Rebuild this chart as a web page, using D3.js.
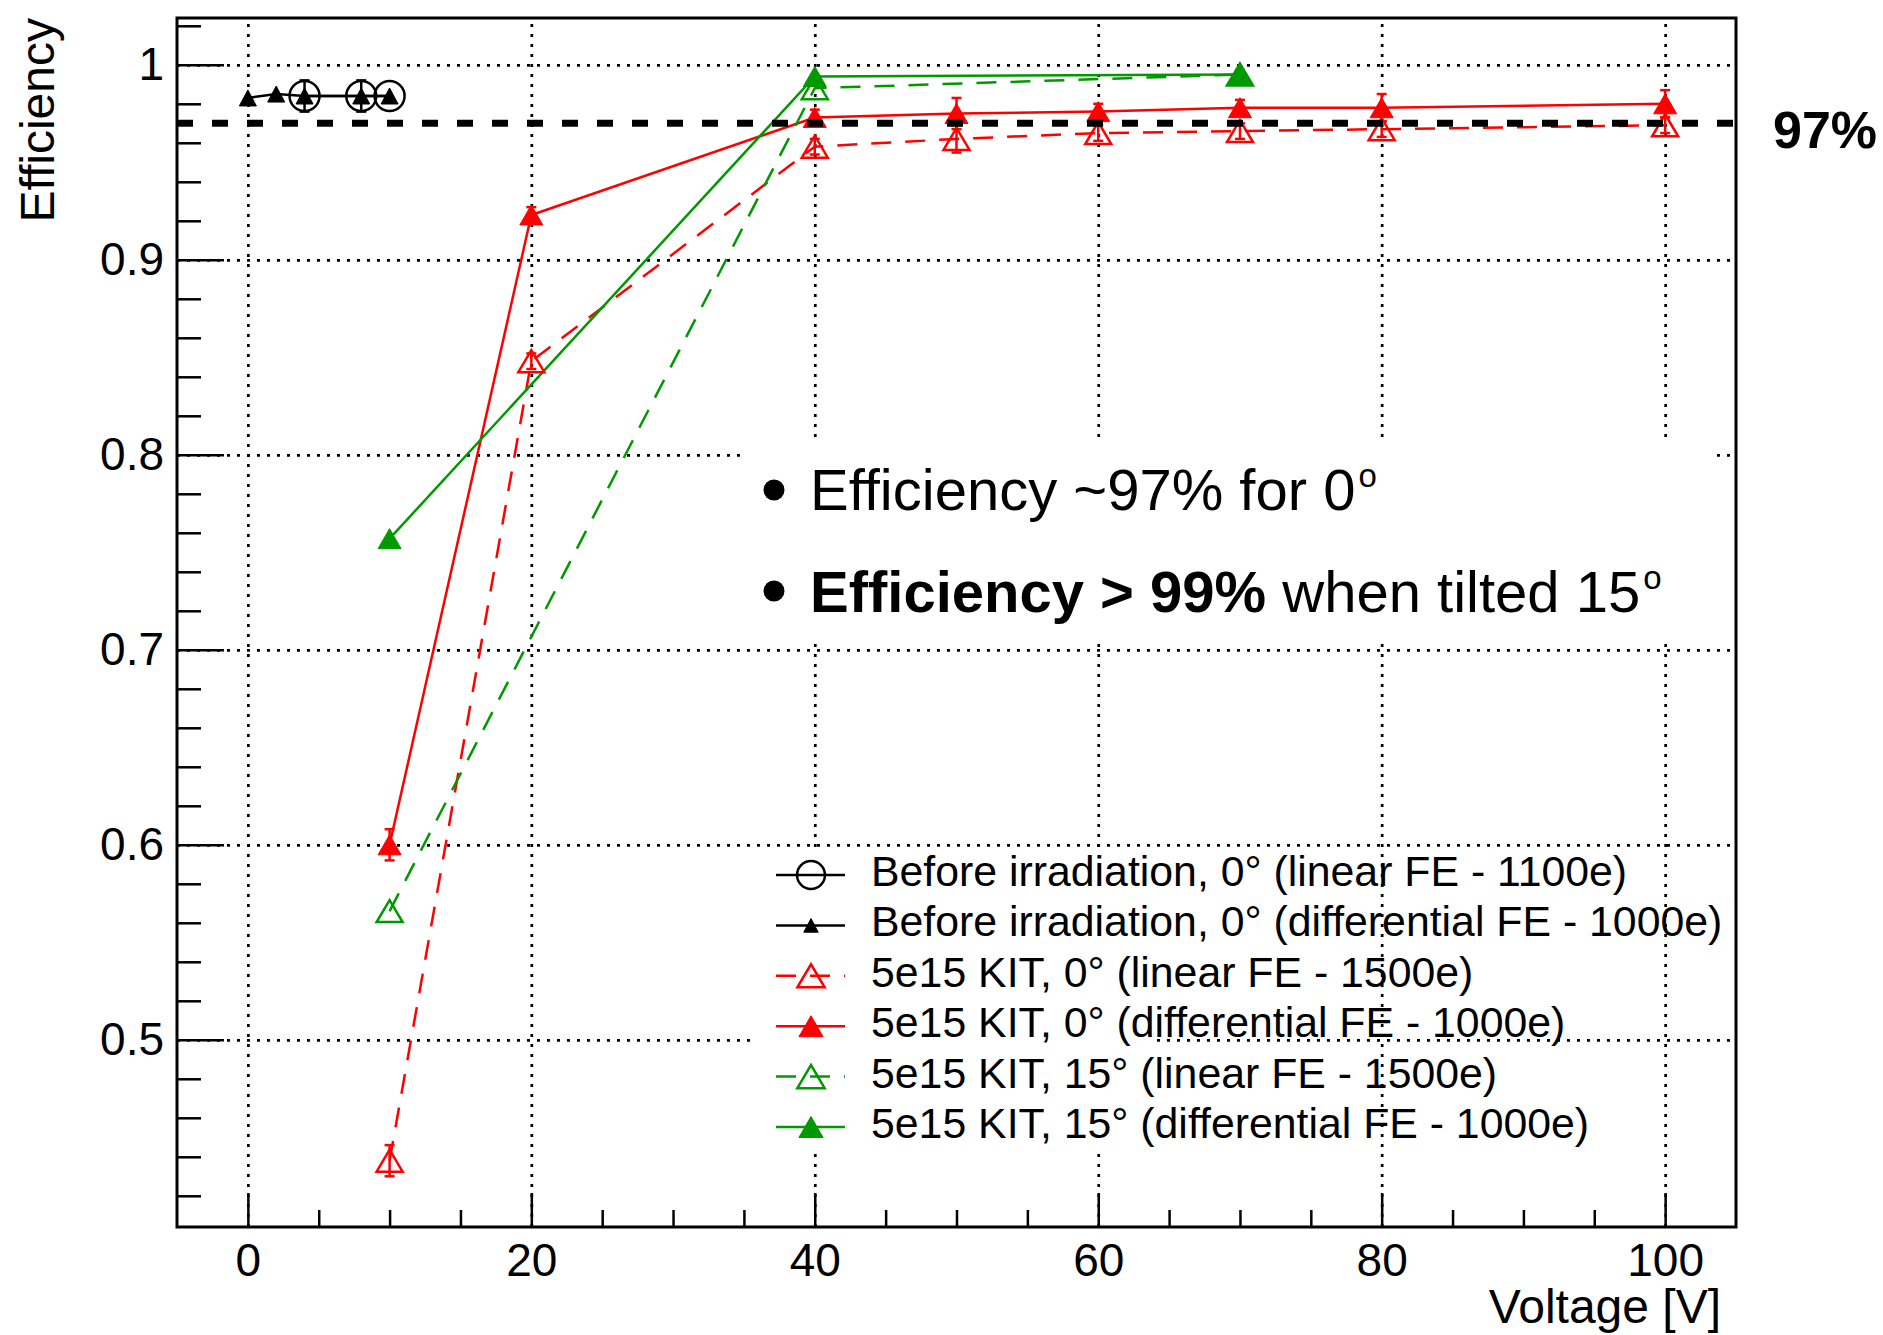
<!DOCTYPE html>
<html><head><meta charset="utf-8">
<script src="https://cdn.jsdelivr.net/npm/d3@7"></script>
<style>
body{margin:0;background:#fff}
svg{display:block}
text{font-family:"Liberation Sans",Arial,Helvetica,sans-serif;fill:#000}
</style>
</head><body>
<svg id="chart" width="1883" height="1335"></svg>
<script>
// ---------- data ----------
const xTicks = [0, 20, 40, 60, 80, 100];
const xTickLabels = ["0", "20", "40", "60", "80", "100"];
const yTicks = [0.5, 0.6, 0.7, 0.8, 0.9, 1];
const yTickLabels = ["0.5", "0.6", "0.7", "0.8", "0.9", "1"];
const xTitle = "Voltage [V]";
const yTitle = "Efficiency";
const threshold = 0.97;
const thresholdLabel = "97%";

const seriesLabels = [
  "Before irradiation, 0° (linear FE - 1100e)",
  "Before irradiation, 0° (differential FE - 1000e)",
  "5e15 KIT, 0° (linear FE - 1500e)",
  "5e15 KIT, 0° (differential FE - 1000e)",
  "5e15 KIT, 15° (linear FE - 1500e)",
  "5e15 KIT, 15° (differential FE - 1000e)"
];

const beforeLinV = [4, 8, 10];
const beforeLinEff = [0.984, 0.984, 0.984];
const beforeLinErr = [0.008, 0.008, 0];

const beforeDiffV = [0, 2, 4, 8, 10];
const beforeDiffEff = [0.983, 0.985, 0.984, 0.984, 0.984];
const beforeDiffErr = [0, 0, 0, 0, 0];

const kit0LinV = [10, 20, 40, 50, 60, 70, 80, 100];
const kit0LinEff = [0.438, 0.848, 0.958, 0.962, 0.965, 0.966, 0.967, 0.969];
const kit0LinErr = [0.008, 0.004, 0.004, 0.007, 0.004, 0.004, 0.004, 0.004];

const kit0DiffV = [10, 20, 40, 50, 60, 70, 80, 100];
const kit0DiffEff = [0.600, 0.923, 0.973, 0.975, 0.976, 0.978, 0.978, 0.980];
const kit0DiffErr = [0.008, 0.004, 0.004, 0.008, 0.004, 0.004, 0.007, 0.007];

const kit15LinV = [10, 40, 70];
const kit15LinEff = [0.566, 0.988, 0.995];
const kit15LinErr = [0, 0, 0];

const kit15DiffV = [10, 40, 70];
const kit15DiffEff = [0.757, 0.994, 0.995];
const kit15DiffErr = [0, 0, 0];

const noteLine1 = "Efficiency ~97% for 0";
const noteLine2Bold = "Efficiency > 99%";
const noteLine2 = " when tilted 15";
const noteSup = "o";

// ---------- styles ----------
const styles = [
  {color: "#000000", dash: null, marker: "circle"},
  {color: "#000000", dash: null, marker: "smalltri"},
  {color: "#ff0000", dash: "20,14", marker: "opentri"},
  {color: "#ff0000", dash: null, marker: "tri"},
  {color: "#009900", dash: "20,14", marker: "opentri"},
  {color: "#009900", dash: null, marker: "tri"}
];
const seriesData = [
  [beforeLinV, beforeLinEff, beforeLinErr],
  [beforeDiffV, beforeDiffEff, beforeDiffErr],
  [kit0LinV, kit0LinEff, kit0LinErr],
  [kit0DiffV, kit0DiffEff, kit0DiffErr],
  [kit15LinV, kit15LinEff, kit15LinErr],
  [kit15DiffV, kit15DiffEff, kit15DiffErr]
];
const series = seriesData.map((s, k) => ({
  label: seriesLabels[k], ...styles[k],
  pts: s[0].map((v, i) => ({v: v, e: s[1][i], err: s[2][i]}))
}));

// ---------- layout ----------
const L = 177, R = 1736, T = 18, B = 1227;
const x = d3.scaleLinear().domain([-5, 105]).range([L, R]);
const y = d3.scaleLinear().domain([0.404, 1.024]).range([B, T]);
const svg = d3.select("#chart");
svg.append("rect").attr("width", 1883).attr("height", 1335).attr("fill", "#fff");

// grid
const gridStyle = g => g.selectAll("line").attr("stroke", "#000").attr("stroke-width", 2.7).attr("stroke-dasharray", "3,7");
const gx = svg.append("g").attr("transform", `translate(0,${B})`)
  .call(d3.axisBottom(x).tickValues(xTicks).tickSize(-(B - T)).tickFormat(""));
gx.select(".domain").remove(); gridStyle(gx);
const gy = svg.append("g").attr("transform", `translate(${L},0)`)
  .call(d3.axisLeft(y).tickValues(yTicks).tickSize(-(R - L)).tickFormat(""));
gy.select(".domain").remove(); gridStyle(gy);

// white boxes that hide the grid behind the annotation and the legend
svg.append("rect").attr("x", 747).attr("y", 442).attr("width", 964).attr("height", 195).attr("fill", "#fff");
svg.append("rect").attr("x", 756).attr("y", 848).attr("width", 398).attr("height", 304).attr("fill", "#fff");

// axes ticks
const tickStyle = g => { g.select(".domain").remove(); g.selectAll("line").attr("stroke", "#000").attr("stroke-width", 2.5); };
const xMinor = d3.range(1, 21).filter(i => i % 4 !== 0).map(i => i * 5);
const yMinor = d3.range(21, 52).filter(i => i % 5 !== 0).map(i => +(i * 0.02).toFixed(2));

const axB = svg.append("g").attr("transform", `translate(0,${B})`)
  .call(d3.axisBottom(x).tickValues(xTicks).tickFormat((d, i) => xTickLabels[i]).tickSize(-34).tickPadding(16));
tickStyle(axB);
axB.selectAll("text").attr("font-size", 46).attr("font-family", '"Liberation Sans",Arial,sans-serif').attr("fill", "#000");
const axBm = svg.append("g").attr("transform", `translate(0,${B})`)
  .call(d3.axisBottom(x).tickValues(xMinor).tickFormat("").tickSize(-17));
tickStyle(axBm);

const axL = svg.append("g").attr("transform", `translate(${L},0)`)
  .call(d3.axisLeft(y).tickValues(yTicks).tickFormat((d, i) => yTickLabels[i]).tickSize(-47).tickPadding(13));
tickStyle(axL);
axL.selectAll("text").attr("font-size", 46).attr("font-family", '"Liberation Sans",Arial,sans-serif').attr("fill", "#000");
const axLm = svg.append("g").attr("transform", `translate(${L},0)`)
  .call(d3.axisLeft(y).tickValues(yMinor).tickFormat("").tickSize(-24));
tickStyle(axLm);

// frame
svg.append("rect").attr("x", L).attr("y", T).attr("width", R - L).attr("height", B - T)
  .attr("fill", "none").attr("stroke", "#000").attr("stroke-width", 3);

// axis titles
svg.append("text").attr("x", 1721).attr("y", 1323).attr("text-anchor", "end").attr("font-size", 48).text(xTitle);
svg.append("text").attr("transform", "translate(54,18) rotate(-90)").attr("text-anchor", "end").attr("font-size", 48).text(yTitle);

// ---------- markers ----------
function marker(g, type, cx, cy, color, scale) {
  scale = scale || 1;
  if (type === "circle") {
    g.append("circle").attr("cx", cx).attr("cy", cy).attr("r", 15 * scale)
      .attr("fill", "none").attr("stroke", color).attr("stroke-width", 2.5);
    return;
  }
  const dims = type === "smalltri" ? [17, 16, true] : type === "tri" ? [23, 20, true] : [26, 22, false];
  const w = dims[0] * scale, h = dims[1] * scale;
  g.append("path").attr("d", `M${cx - w / 2},${cy + h / 2}L${cx + w / 2},${cy + h / 2}L${cx},${cy - h / 2}Z`)
    .attr("fill", dims[2] ? color : "none").attr("stroke", color)
    .attr("stroke-width", dims[2] ? 1 : 2.5).attr("stroke-linejoin", "miter");
}

// ---------- data lines ----------
const line = d3.line().x(d => x(d.v)).y(d => y(d.e));
const dataG = svg.append("g");
series.forEach(s => {
  dataG.append("path").datum(s.pts).attr("d", line).attr("fill", "none")
    .attr("stroke", s.color).attr("stroke-width", 2.5)
    .attr("stroke-dasharray", s.dash);
});
series.forEach(s => {
  s.pts.filter(p => p.err > 0).forEach(p => {
    const px = x(p.v);
    dataG.append("line").attr("x1", px).attr("x2", px).attr("y1", y(p.e - p.err)).attr("y2", y(p.e + p.err))
      .attr("stroke", s.color).attr("stroke-width", 2.5);
    [p.e - p.err, p.e + p.err].forEach(ev => {
      dataG.append("line").attr("x1", px - 5).attr("x2", px + 5).attr("y1", y(ev)).attr("y2", y(ev))
        .attr("stroke", s.color).attr("stroke-width", 2.5);
    });
  });
  s.pts.forEach(p => marker(dataG, s.marker, x(p.v), y(p.e), s.color));
});

// ---------- 97% threshold ----------
svg.append("line").attr("x1", x.range()[0]).attr("x2", x.range()[1]).attr("y1", y(threshold)).attr("y2", y(threshold))
  .attr("stroke", "#000").attr("stroke-width", 7).attr("stroke-dasharray", "16,19");
svg.append("text").attr("x", 1773).attr("y", 148).attr("font-size", 52).attr("font-weight", "bold").text(thresholdLabel);

// ---------- annotation ----------
const note = svg.append("g");
note.append("circle").attr("cx", 774).attr("cy", 490).attr("r", 10.5).attr("fill", "#000");
note.append("circle").attr("cx", 774).attr("cy", 591).attr("r", 10.5).attr("fill", "#000");
const t1 = note.append("text").attr("x", 810).attr("y", 510).attr("font-size", 58);
t1.append("tspan").text(noteLine1);
t1.append("tspan").attr("font-size", 33).attr("dy", -23).attr("dx", 3).text(noteSup);
const t2 = note.append("text").attr("x", 810).attr("y", 612).attr("font-size", 58);
t2.append("tspan").attr("font-weight", "bold").text(noteLine2Bold);
t2.append("tspan").text(noteLine2);
t2.append("tspan").attr("font-size", 33).attr("dy", -23).attr("dx", 3).text(noteSup);

// ---------- legend ----------
const leg = svg.append("g");
series.forEach((s, k) => {
  const ly = 875 + k * 50.4;
  leg.append("line").attr("x1", 776).attr("x2", 845).attr("y1", ly).attr("y2", ly)
    .attr("stroke", s.color).attr("stroke-width", 2.5).attr("stroke-dasharray", s.dash);
  marker(leg, s.marker, 811, ly, s.color, s.marker === "circle" ? 0.93 : (s.marker === "smalltri" ? 0.85 : 1.05));
  leg.append("text").attr("x", 871).attr("y", ly + 11).attr("font-size", 42.8).text(s.label);
});
</script>
</body></html>
